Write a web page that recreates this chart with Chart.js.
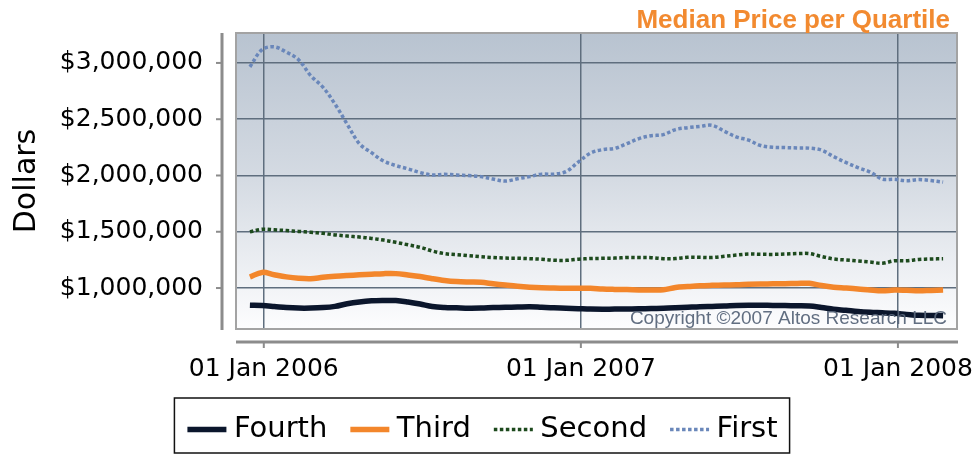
<!DOCTYPE html>
<html>
<head>
<meta charset="utf-8">
<script src="https://cdn.jsdelivr.net/npm/chart.js@4.4.0/dist/chart.umd.min.js"></script>
<style>
  html, body { margin: 0; padding: 0; background: #fff; }
</style>
</head>
<body>
<canvas id="miGrafico" width="977" height="454"></canvas>
<script>
// fechas (cada dos semanas) y precios medianos en miles de dólares
var dates = ['2005-12-16','2005-12-30','2006-01-13','2006-01-27','2006-02-10','2006-02-24','2006-03-10','2006-03-24',
  '2006-04-07','2006-04-21','2006-05-05','2006-05-19','2006-06-02','2006-06-16','2006-06-30','2006-07-14',
  '2006-07-28','2006-08-11','2006-08-25','2006-09-08','2006-09-22','2006-10-06','2006-10-20','2006-11-03',
  '2006-11-17','2006-12-01','2006-12-15','2006-12-29','2007-01-12','2007-01-26','2007-02-09','2007-02-23',
  '2007-03-09','2007-03-23','2007-04-06','2007-04-20','2007-05-04','2007-05-18','2007-06-01','2007-06-15',
  '2007-06-29','2007-07-13','2007-07-27','2007-08-10','2007-08-24','2007-09-07','2007-09-21','2007-10-05',
  '2007-10-19','2007-11-02','2007-11-16','2007-11-30','2007-12-14','2007-12-28','2008-01-11','2008-01-25',
  '2008-02-08','2008-02-22'];

var fourth = [847,844,836,827,822,822,826,837,860,876, 886,889,889,876,858,836,827,824,821,822,
  826,829,831,834,829,824,821,817,813,812, 813,813,815,818,820,824,829,834,837,840,
  845,847,847,845,844,842,840,827,812,802, 791,784,780,775,766,758,756,754];
var third = [1098,1139,1118,1099,1087,1083,1095,1104,1111,1117, 1123,1128,1128,1116,1102,1083,1067,1057,1053,1051,
  1038,1026,1015,1007,1002,1000,998,997,997,991, 988,986,983,982,984,1005,1013,1020,1024,1027,
  1029,1033,1036,1037,1039,1041,1042,1022,1007,1000, 992,982,975,982,980,976,979,982];
var second = [1499,1522,1517,1511,1503,1495,1486,1472,1462,1453, 1441,1426,1406,1384,1362,1329,1306,1296,1287,1278,
  1271,1266,1265,1261,1256,1247,1246,1256,1262,1264, 1266,1271,1271,1270,1261,1262,1273,1273,1271,1282,
  1293,1302,1300,1299,1302,1306,1306,1280,1258,1249, 1240,1231,1220,1242,1242,1254,1258,1260];
var first = [2965,3118,3143,3096,3029,2887,2785,2634,2456,2283, 2203,2128,2088,2059,2026,2004,2010,2004,1999,1990,
  1968,1950,1971,1990,2012,2012,2035,2119,2199,2230, 2241,2283,2328,2353,2363,2408,2425,2436,2446,2394,
  2343,2314,2266,2250,2248,2245,2243,2226,2168,2116, 2070,2030,1968,1966,1953,1964,1955,1941];

var seriesNames = ['Fourth', 'Third', 'Second', 'First'];
var xTickDates = ['2006-01-01', '2007-01-01', '2008-01-01'];
var xTickLabels = ['01 Jan 2006', '01 Jan 2007', '01 Jan 2008'];
var yTicks = [1000, 1500, 2000, 2500, 3000];

// días desde 01 Jan 2006
function dia(s) {
  var p = s.split('-');
  return (Date.UTC(+p[0], +p[1] - 1, +p[2]) - Date.UTC(2006, 0, 1)) / 86400000;
}
function puntos(arr) {
  return dates.map(function (d, i) { return { x: dia(d), y: arr[i] }; });
}
var xTickValues = xTickDates.map(dia);

// quita el relleno que Chart.js reserva para las etiquetas de los extremos
function sinPadding(s) {
  s.paddingLeft = 0; s.paddingRight = 0; s.paddingTop = 0; s.paddingBottom = 0;
}

// fondo degradado, bordes, ejes separados, título, copyright y muestras de la leyenda
var extras = {
  id: 'extras',
  beforeDraw: function (chart) {
    var c = chart.ctx, a = chart.chartArea;
    var grad = c.createLinearGradient(0, a.top, 0, a.bottom);
    grad.addColorStop(0, '#b8c3d0');
    grad.addColorStop(0.5, '#d5dbe3');
    grad.addColorStop(1, '#fdfdfe');
    c.save();
    c.fillStyle = grad;
    c.fillRect(a.left, a.top, a.right - a.left, a.bottom - a.top);
    c.restore();
  },
  afterDatasetsDraw: function (chart) {
    var c = chart.ctx, a = chart.chartArea;
    c.save();
    c.font = '19px "Liberation Sans", Arial, sans-serif';
    c.fillStyle = 'rgba(88,102,122,0.95)';
    c.textAlign = 'right';
    c.textBaseline = 'alphabetic';
    c.fillText('Copyright \u00a92007 Altos Research LLC', a.right - 10, a.bottom - 5);
    c.restore();
  },
  afterDraw: function (chart) {
    var c = chart.ctx, a = chart.chartArea;
    var sx = chart.scales.x, sy = chart.scales.y;
    c.save();
    // borde del área
    c.strokeStyle = '#a3a3a3';
    c.lineWidth = 2;
    c.strokeRect(a.left, a.top, a.right - a.left, a.bottom - a.top);

    // eje y desplazado
    c.strokeStyle = '#8c8c8c';
    c.lineWidth = 3;
    var ax = a.left - 14;
    c.beginPath();
    c.moveTo(ax, a.top);
    c.lineTo(ax, a.bottom + 1);
    c.stroke();
    c.lineWidth = 2;
    yTicks.forEach(function (v) {
      var y = sy.getPixelForValue(v);
      c.beginPath();
      c.moveTo(ax - 6, y);
      c.lineTo(ax, y);
      c.stroke();
    });

    // eje x desplazado
    var ay = a.bottom + 13;
    c.lineWidth = 3;
    c.beginPath();
    c.moveTo(a.left, ay);
    c.lineTo(a.right + 1, ay);
    c.stroke();
    c.lineWidth = 2;
    xTickValues.forEach(function (v) {
      var x = sx.getPixelForValue(v);
      c.beginPath();
      c.moveTo(x, ay);
      c.lineTo(x, ay + 6);
      c.stroke();
    });

    // título
    c.font = 'bold 26px "Liberation Sans", Arial, sans-serif';
    c.fillStyle = '#f28a30';
    c.textAlign = 'right';
    c.textBaseline = 'alphabetic';
    c.fillText('Median Price per Quartile', 950, 28);

    // muestras de línea y marco de la leyenda
    var hb = chart.legend.legendHitBoxes;
    if (hb && hb.length) {
      hb.forEach(function (h, i) {
        var ds = chart.data.datasets[i];
        var y = h.top + 29 / 2;
        c.strokeStyle = ds.borderColor;
        c.lineWidth = ds.borderWidth;
        c.setLineDash(ds.borderDash || []);
        c.beginPath();
        c.moveTo(h.left + 8, y);
        c.lineTo(h.left + 47, y);
        c.stroke();
      });
      c.setLineDash([]);
      var last = hb[hb.length - 1];
      var l = hb[0].left - 5, r = last.left + last.width + 12;
      c.strokeStyle = '#111';
      c.lineWidth = 1.5;
      c.strokeRect(l, hb[0].top - 17, r - l, 55);
    }
    c.restore();
  }
};

var ctx = document.getElementById('miGrafico').getContext('2d');
var miGrafico = new Chart(ctx, {
  type: 'line',
  data: {
    datasets: [
      { label: seriesNames[0], data: puntos(fourth), borderColor: '#0b162c', borderWidth: 5.5 },
      { label: seriesNames[1], data: puntos(third), borderColor: '#f3862b', borderWidth: 5.5 },
      { label: seriesNames[2], data: puntos(second), borderColor: '#1d4a1d', borderWidth: 3.5, borderDash: [3.5, 2.5] },
      { label: seriesNames[3], data: puntos(first), borderColor: '#6a87ba', borderWidth: 3.5, borderDash: [3.5, 2.5] }
    ]
  },
  options: {
    responsive: false,
    animation: false,
    layout: { padding: { top: 33, right: 20, left: 0, bottom: 0 } },
    elements: {
      point: { radius: 0 },
      line: { tension: 0.35, fill: false, borderCapStyle: 'butt' }
    },
    scales: {
      x: {
        type: 'linear',
        min: -32,
        max: 798,
        afterBuildTicks: function (s) { s.ticks = xTickValues.map(function (v) { return { value: v }; }); },
        afterFit: function (s) { s.height = 71; sinPadding(s); },
        grid: { color: '#5f6e7e', lineWidth: 1.5, drawTicks: false },
        border: { display: false },
        ticks: {
          padding: 25,
          color: '#000',
          font: { family: '"DejaVu Sans"', size: 25 },
          maxRotation: 0,
          callback: function (v) { return xTickLabels[xTickValues.indexOf(v)]; }
        }
      },
      y: {
        min: 636,
        max: 3266,
        afterBuildTicks: function (s) { s.ticks = yTicks.map(function (v) { return { value: v }; }); },
        afterFit: function (s) { s.width = 236; sinPadding(s); },
        grid: { color: '#5f6e7e', lineWidth: 1.5, drawTicks: false },
        border: { display: false },
        title: {
          display: true,
          text: 'Dollars',
          color: '#000',
          font: { family: '"DejaVu Sans"', size: 30 },
          padding: { top: 9, bottom: 0 }
        },
        ticks: {
          padding: 33,
          color: '#000',
          font: { family: '"DejaVu Sans"', size: 25 },
          callback: function (v) { return '$' + (v * 1000).toLocaleString('en-US'); }
        }
      }
    },
    plugins: {
      legend: {
        position: 'bottom',
        labels: {
          color: '#000',
          font: { family: '"DejaVu Sans"', size: 29 },
          boxWidth: 40,
          boxHeight: 0,
          padding: 15,
          // la muestra de línea se dibuja en el plugin (con punteado)
          generateLabels: function (chart) {
            return chart.data.datasets.map(function (ds, i) {
              return { text: ds.label, datasetIndex: i, fillStyle: 'rgba(0,0,0,0)',
                strokeStyle: 'rgba(0,0,0,0)', lineWidth: 0, fontColor: '#000', hidden: false };
            });
          }
        }
      },
      tooltip: { enabled: false }
    }
  },
  plugins: [extras]
});
</script>
</body>
</html>
